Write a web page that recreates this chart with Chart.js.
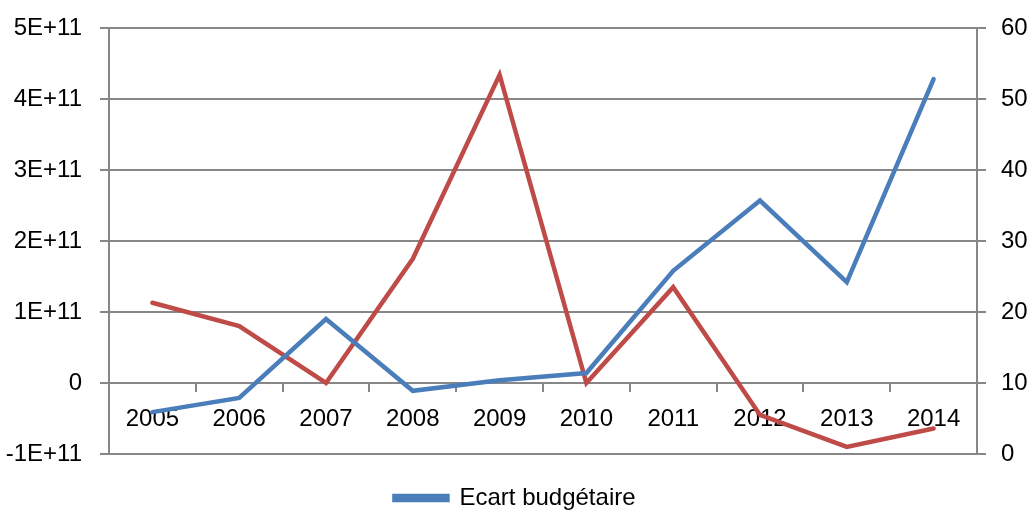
<!DOCTYPE html>
<html>
<head>
<meta charset="utf-8">
<script src="https://cdn.jsdelivr.net/npm/chart.js@4"></script>
<style>
html,body{margin:0;padding:0;background:#fff;}
#wrap{width:1030px;height:510px;position:relative;}
</style>
</head>
<body>
<div id="wrap"><canvas id="c"></canvas></div>
<script>
const categories = ["2005","2006","2007","2008","2009","2010","2011","2012","2013","2014"];
const ecartBudgetaire = [-4.1e10, -2.1e10, 9.0e10, -1.1e10, 0.4e10, 1.4e10, 1.58e11, 2.57e11, 1.42e11, 4.28e11];
const secondSeries = [21.3, 18.0, 10.0, 27.5, 53.4, 10.0, 23.5, 5.5, 1.0, 3.6];
const leftTicks = [-1e11, 0, 1e11, 2e11, 3e11, 4e11, 5e11];
const rightTicks = [0, 10, 20, 30, 40, 50, 60];

const FONT = {family: "'Liberation Sans', Arial, sans-serif", size: 24};
const GRID = '#878787';

function sci(v){
  if (v === 0) return '0';
  const e = Math.floor(Math.log10(Math.abs(v)) + 1e-9);
  const m = Math.round(v / Math.pow(10, e));
  return m + 'E+' + e;
}

new Chart(document.getElementById('c'), {
  type: 'line',
  data: {
    labels: categories,
    datasets: [
      {label: 'Ecart budgétaire', data: ecartBudgetaire, yAxisID: 'y', borderColor: '#4A7EBB', backgroundColor: '#4A7EBB', borderWidth: 4.5, pointRadius: 0, tension: 0, borderCapStyle: 'round', borderJoinStyle: 'miter'},
      {label: 'Série 2', data: secondSeries, yAxisID: 'y1', borderColor: '#BE4B48', backgroundColor: '#BE4B48', borderWidth: 4.5, pointRadius: 0, tension: 0, borderCapStyle: 'round', borderJoinStyle: 'miter'}
    ]
  },
  options: {
    responsive: true,
    maintainAspectRatio: false,
    animation: false,
    layout: {padding: {top: 28, left: 0, right: 0, bottom: -10}},
    plugins: {
      tooltip: {enabled: false},
      legend: {
        position: 'bottom',
        title: {display: true, text: '', font: {size: 1, lineHeight: 1}, padding: {top: 31, bottom: 0}},
        labels: {
          filter: (item) => item.datasetIndex === 0,
          font: FONT, color: '#000', boxWidth: 53, boxHeight: 4, padding: 0
        }
      }
    },
    scales: {
      x: {
        type: 'category',
        position: {y: 0},
        offset: true,
        grid: {display: true, drawOnChartArea: false, drawTicks: true, tickLength: 9, offset: true, color: GRID, lineWidth: 2},
        border: {display: false},
        ticks: {font: FONT, color: '#000', padding: 13, maxRotation: 0, autoSkip: false}
      },
      y: {
        position: 'left',
        min: -1e11, max: 5e11,
        afterBuildTicks: (s) => { s.ticks = leftTicks.map(v => ({value: v})); },
        afterFit: (s) => { s.width = 109; s.paddingTop = 0; s.paddingBottom = 0; },
        grid: {color: GRID, lineWidth: 2, tickLength: 9},
        border: {display: true, color: GRID, width: 2},
        ticks: {font: FONT, color: '#000', padding: 18, callback: (v) => sci(v)}
      },
      y1: {
        position: 'right',
        min: 0, max: 60,
        afterBuildTicks: (s) => { s.ticks = rightTicks.map(v => ({value: v})); },
        afterFit: (s) => { s.width = 53; s.paddingTop = 0; s.paddingBottom = 0; },
        grid: {drawOnChartArea: false, color: GRID, lineWidth: 2, tickLength: 9},
        border: {display: true, color: GRID, width: 2},
        ticks: {font: FONT, color: '#000', padding: 15}
      }
    }
  }
});
</script>
</body>
</html>
